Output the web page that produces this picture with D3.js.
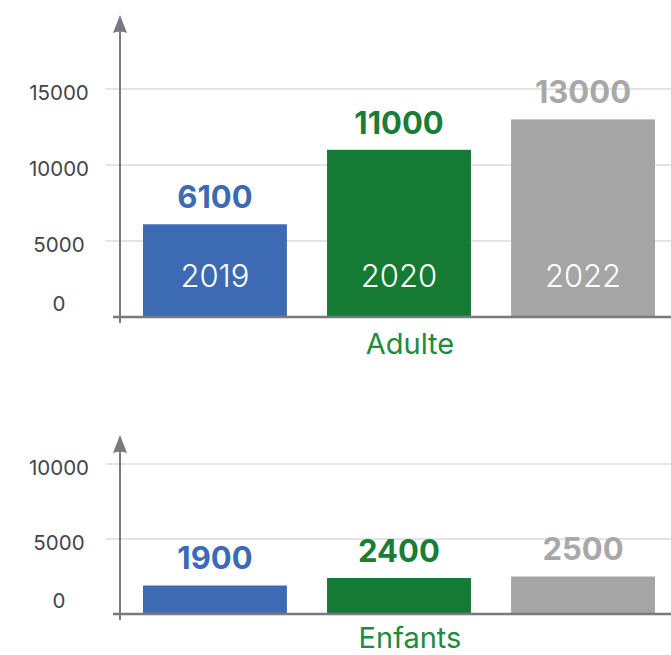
<!DOCTYPE html>
<html>
<head>
<meta charset="utf-8">
<script src="https://cdn.jsdelivr.net/npm/d3@7"></script>
<style>
  body { margin: 0; background: #fff; }
  text { font-family: "Inter", "DejaVu Sans", sans-serif; }
</style>
</head>
<body>
<div id="chart"></div>
<script>
// data
var years = ["2019", "2020", "2022"];
var adulteValues = [6100, 11000, 13000];
var enfantsValues = [1900, 2400, 2500];
var adulteTicks = [0, 5000, 10000, 15000];
var enfantsTicks = [0, 5000, 10000];
var barColors = ["#3d6bb3", "#157a33", "#a5a5a5"];
var labelColors = ["#3d6bb3", "#187d37", "#a8a8a8"];

var W = 671, H = 655;
var svg = d3.select("#chart").append("svg")
    .attr("width", W)
    .attr("height", H);

var x = d3.scaleBand().domain(years).range([143, 655]).paddingInner(0.218).paddingOuter(0);

var axisX = 120;       // vertical axis position
var axisColor = "#7a7982";

function drawPanel(title, values, ticks, yDomainMax, yRange, arrowTip) {
  var y = d3.scaleLinear().domain([0, yDomainMax]).range(yRange);
  var g = svg.append("g");
  var base = y(0);

  // gridlines
  g.selectAll(".grid").data(ticks.filter(function(d){ return d > 0; }))
    .enter().append("line")
      .attr("x1", 106).attr("x2", W)
      .attr("y1", function(d){ return y(d); })
      .attr("y2", function(d){ return y(d); })
      .attr("stroke", "#c9c9ce")
      .attr("stroke-width", 1.2);

  // tick labels (centred, "0" sits above the baseline)
  g.selectAll(".tick").data(ticks)
    .enter().append("text")
      .attr("x", 59)
      .attr("y", function(d){ return Math.min(y(d) + 4, base - 13); })
      .attr("dy", "0.35em")
      .attr("text-anchor", "middle")
      .attr("fill", "#444448")
      .attr("font-size", 20.5)
      .text(function(d){ return d; });

  // bars
  g.selectAll(".bar").data(values)
    .enter().append("rect")
      .attr("x", function(d, i){ return x(years[i]); })
      .attr("width", x.bandwidth())
      .attr("y", function(d){ return y(d); })
      .attr("height", function(d){ return base - y(d); })
      .attr("fill", function(d, i){ return barColors[i]; });

  // value labels
  g.selectAll(".val").data(values)
    .enter().append("text")
      .attr("x", function(d, i){ return x(years[i]) + x.bandwidth() / 2; })
      .attr("y", function(d){ return y(d) - 27; })
      .attr("dy", "0.35em")
      .attr("text-anchor", "middle")
      .attr("font-size", 31)
      .attr("font-weight", 700)
      .attr("fill", function(d, i){ return labelColors[i]; })
      .text(function(d){ return d; });

  // axes
  g.append("line")
    .attr("x1", 113).attr("x2", W)
    .attr("y1", base).attr("y2", base)
    .attr("stroke", axisColor).attr("stroke-width", 2.5);
  g.append("line")
    .attr("x1", axisX).attr("x2", axisX)
    .attr("y1", base + 6).attr("y2", arrowTip + 14)
    .attr("stroke", axisColor).attr("stroke-width", 2);
  g.append("path")
    .attr("d", "M" + axisX + "," + arrowTip +
               " L" + (axisX + 7) + "," + (arrowTip + 18) +
               " Q" + axisX + "," + (arrowTip + 15) + " " + (axisX - 7) + "," + (arrowTip + 18) + " Z")
    .attr("fill", axisColor);

  // title (kept inside the page at the bottom)
  g.append("text")
    .attr("x", 410)
    .attr("y", Math.min(base + 37, H - 7))
    .attr("text-anchor", "middle")
    .attr("font-size", 29)
    .attr("fill", "#218a3e")
    .text(title);

  return y;
}

var yA = drawPanel("Adulte", adulteValues, adulteTicks, 15000, [317, 89], 15);
var yE = drawPanel("Enfants", enfantsValues, enfantsTicks, 10000, [614, 464], 435);

// year labels inside the top bars
svg.selectAll(".year").data(years)
  .enter().append("text")
    .attr("x", function(d){ return x(d) + x.bandwidth() / 2; })
    .attr("y", yA(0) - 30)
    .attr("text-anchor", "middle")
    .attr("font-size", 31)
    .attr("font-weight", 300)
    .attr("fill", "#ffffff")
    .text(function(d){ return d; });
</script>
</body>
</html>
